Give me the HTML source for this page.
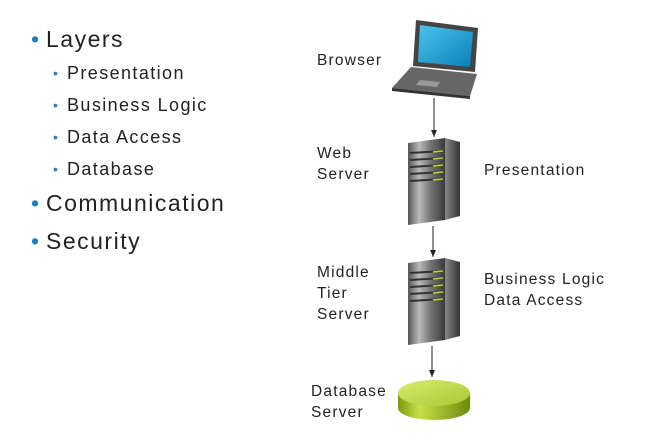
<!DOCTYPE html>
<html><head><style>
body{margin:0;width:670px;height:447px;background:#fff;position:relative;font-family:"Liberation Sans",sans-serif;color:#222;overflow:hidden}
.t{position:absolute;white-space:nowrap;line-height:1}
.b1{font-size:23px;letter-spacing:1.5px}
.b2{font-size:18px;letter-spacing:1.4px}
.l{font-size:15.5px;line-height:21px;letter-spacing:1.2px}
.d{position:absolute;color:#1c7fc1;line-height:1}
</style></head><body>
<div class="d" style="left:31px;top:28px;font-size:23px">•</div>
<div class="t b1" style="left:46px;top:28px">Layers</div>
<div class="d" style="left:53px;top:66px;font-size:14px">•</div>
<div class="t b2" style="left:67px;top:64px">Presentation</div>
<div class="d" style="left:53px;top:98px;font-size:14px">•</div>
<div class="t b2" style="left:67px;top:96px">Business Logic</div>
<div class="d" style="left:53px;top:130px;font-size:14px">•</div>
<div class="t b2" style="left:67px;top:128px">Data Access</div>
<div class="d" style="left:53px;top:162px;font-size:14px">•</div>
<div class="t b2" style="left:67px;top:160px">Database</div>
<div class="d" style="left:31px;top:192px;font-size:23px">•</div>
<div class="t b1" style="left:46px;top:192px">Communication</div>
<div class="d" style="left:31px;top:230px;font-size:23px">•</div>
<div class="t b1" style="left:46px;top:230px">Security</div>

<div class="t l" style="left:317px;top:50px">Browser</div>
<div class="t l" style="left:317px;top:143px">Web<br>Server</div>
<div class="t l" style="left:484px;top:160px">Presentation</div>
<div class="t l" style="left:317px;top:262px">Middle<br>Tier<br>Server</div>
<div class="t l" style="left:484px;top:269px">Business Logic<br>Data Access</div>
<div class="t l" style="left:311px;top:381px">Database<br>Server</div>

<svg width="670" height="447" style="position:absolute;left:0;top:0">
<defs>
<linearGradient id="scr" x1="0" y1="0" x2="1" y2="1"><stop offset="0" stop-color="#4cc4ee"/><stop offset="1" stop-color="#0a7fb5"/></linearGradient>
<linearGradient id="srv" x1="0" y1="0" x2="1" y2="0"><stop offset="0" stop-color="#555"/><stop offset=".3" stop-color="#bbb"/><stop offset=".6" stop-color="#777"/><stop offset="1" stop-color="#3a3a3a"/></linearGradient>
<linearGradient id="srvs" x1="0" y1="0" x2="1" y2="0"><stop offset="0" stop-color="#888"/><stop offset="1" stop-color="#333"/></linearGradient>
<linearGradient id="cyl" x1="0" y1="0" x2="1" y2="0"><stop offset="0" stop-color="#7a9a10"/><stop offset=".3" stop-color="#c8e04a"/><stop offset="1" stop-color="#6d8a0c"/></linearGradient>
<linearGradient id="cyt" x1="0" y1="0" x2="1" y2="1"><stop offset="0" stop-color="#d8ec70"/><stop offset="1" stop-color="#a8c830"/></linearGradient>
<marker id="a" markerWidth="8" markerHeight="8" refX="7" refY="4" orient="auto"><path d="M0,1 L7,4 L0,7 z" fill="#222"/></marker>
</defs>
<polygon points="416,20 478,28 475,72 413,66" fill="#444"/>
<polygon points="420,25 473,32 470,67 418,62" fill="url(#scr)"/>
<polygon points="411,67 477,74 470,96 392,88" fill="#666"/>
<polygon points="392,88 470,96 470,99 392,91" fill="#333"/>
<polygon points="420,80 440,82 437,87 416,85" fill="#999"/>
<line x1="434" y1="98" x2="434" y2="137" stroke="#222" marker-end="url(#a)"/>
<line x1="433" y1="226" x2="433" y2="257" stroke="#222" marker-end="url(#a)"/>
<line x1="432" y1="346" x2="432" y2="377" stroke="#222" marker-end="url(#a)"/>
<g>
<polygon points="408,143 445,138 445,220 408,225" fill="url(#srv)"/>
<polygon points="445,138 460,142 460,216 445,220" fill="url(#srvs)"/>
<g stroke="#333" stroke-width="2"><line x1="410" y1="153" x2="443" y2="151"/><line x1="410" y1="160" x2="443" y2="158"/><line x1="410" y1="167" x2="443" y2="165"/><line x1="410" y1="174" x2="443" y2="172"/><line x1="410" y1="181" x2="443" y2="179"/></g>
<g stroke="#b6d33a" stroke-width="1.5"><line x1="433" y1="152" x2="443" y2="151"/><line x1="433" y1="159" x2="443" y2="158"/><line x1="433" y1="166" x2="443" y2="165"/><line x1="433" y1="173" x2="443" y2="172"/><line x1="433" y1="180" x2="443" y2="179"/></g>
</g>
<g transform="translate(0,120)">
<polygon points="408,143 445,138 445,220 408,225" fill="url(#srv)"/>
<polygon points="445,138 460,142 460,216 445,220" fill="url(#srvs)"/>
<g stroke="#333" stroke-width="2"><line x1="410" y1="153" x2="443" y2="151"/><line x1="410" y1="160" x2="443" y2="158"/><line x1="410" y1="167" x2="443" y2="165"/><line x1="410" y1="174" x2="443" y2="172"/><line x1="410" y1="181" x2="443" y2="179"/></g>
<g stroke="#b6d33a" stroke-width="1.5"><line x1="433" y1="152" x2="443" y2="151"/><line x1="433" y1="159" x2="443" y2="158"/><line x1="433" y1="166" x2="443" y2="165"/><line x1="433" y1="173" x2="443" y2="172"/><line x1="433" y1="180" x2="443" y2="179"/></g>
</g>
<path d="M398,393 L398,408 A36,12 0 0 0 470,408 L470,393 z" fill="url(#cyl)"/>
<ellipse cx="434" cy="393" rx="36" ry="13" fill="url(#cyt)"/>
</svg>
</body></html>
